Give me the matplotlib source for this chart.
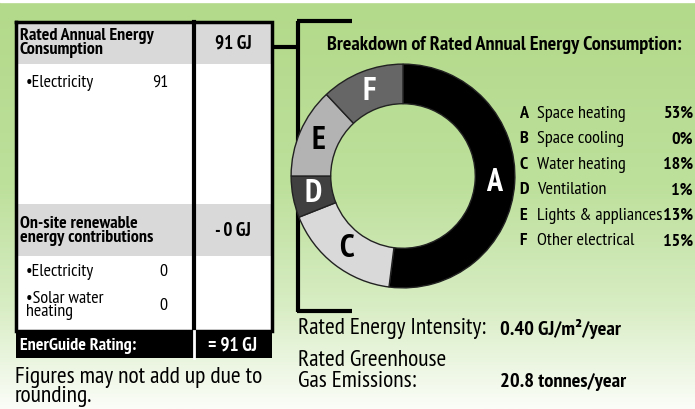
import numpy as np
import matplotlib
matplotlib.use("Agg")
import matplotlib.pyplot as plt
from matplotlib.colors import LinearSegmentedColormap
from matplotlib.patches import Rectangle

letters = ["A", "B", "C", "D", "E", "F"]
end_uses = ["Space heating", "Space cooling", "Water heating", "Ventilation",
            "Lights & appliances", "Other electrical"]
shares = [53, 0, 18, 1, 13, 15]            # % printed in the legend
ring_sizes = [52, 0, 17, 6, 13, 12]        # wedge sizes as drawn in the ring
ring_colors = ["#000000", "#ffffff", "#d9d9d9", "#404040", "#b3b3b3", "#666666"]
ring_text = ["white", "black", "black", "white", "black", "white"]

annual_gj = 91
supply_items = ["Electricity"]
supply_values = [91]
renewable_gj = 0
renewable_items = ["Electricity", "Solar water\nheating"]
renewable_values = [0, 0]
rating_gj = 91
intensity = "0.40"
ghg = "20.8"

FONT = ["PT Sans Narrow", "Liberation Sans", "DejaVu Sans"]
plt.rcParams["font.family"] = FONT

def pt(px):
    return px * 0.72

fig = plt.figure(figsize=(6.95, 4.10), dpi=100)
ax = fig.add_axes([0, 0, 1, 1])
ax.set_xlim(0, 695)
ax.set_ylim(410, 0)
ax.axis("off")

# background gradient (green -> white)
bg = LinearSegmentedColormap.from_list(
    "bg", [(0, "#b3d98a"), (0.45, "#bde09b"), (0.75, "#d8edc4"), (1.0, "#fbfdf8")])
grad = np.linspace(0, 1, 256).reshape(-1, 1)
ax.imshow(grad, cmap=bg, extent=[0, 695, 410, 3], aspect="auto", zorder=0)
ax.add_patch(Rectangle((0, 0), 695, 3, color="white", zorder=1))

# ---- table ----
L, R, D = 16, 272, 194
ax.add_patch(Rectangle((L, 23), R - L, 312, facecolor="white", edgecolor="none", zorder=1))
ax.add_patch(Rectangle((L, 23), R - L, 42, facecolor="#d9d9d9", edgecolor="none", zorder=2))
ax.add_patch(Rectangle((L, 205), R - L, 52, facecolor="#d9d9d9", edgecolor="none", zorder=2))
ax.add_patch(Rectangle((L, 332), R - L, 27, facecolor="black", edgecolor="none", zorder=2))
ax.plot([L, R, R, L, L], [23, 23, 332, 332, 23], color="black", lw=2.5, zorder=3,
        solid_joinstyle="miter")
ax.plot([D, D], [23, 332], color="black", lw=3, zorder=3)
ax.plot([D, D], [332, 359], color="white", lw=2, zorder=3)

hb = dict(fontsize=pt(18), fontweight="bold", va="center", zorder=4,
          linespacing=0.88)
ax.text(20, 43, "Rated Annual Energy\nConsumption", ha="left", **hb)
ax.text(233, 44, f"{annual_gj} GJ", ha="center", **dict(hb, fontsize=pt(19)))
ax.text(20, 231, "On-site renewable\nenergy contributions", ha="left", **hb)
ax.text(233, 231, f"- {renewable_gj} GJ", ha="center", **dict(hb, fontsize=pt(19)))
ax.text(20, 346, "EnerGuide Rating:", ha="left", color="white", **hb)
ax.text(233, 346, f"= {rating_gj} GJ", ha="center", color="white", **dict(hb, fontsize=pt(19)))

rb = dict(fontsize=pt(18), va="center", zorder=4, linespacing=0.75)
for i, (name, v) in enumerate(zip(supply_items, supply_values)):
    y = 83 + i * 25
    ax.text(26, y, "\u2022" + name, ha="left", **rb)
    ax.text(168, y, f"{v}", ha="right", **rb)
for i, (name, v) in enumerate(zip(renewable_items, renewable_values)):
    y = 272 + i * 34
    ax.text(26, y, "\u2022" + name, ha="left", **rb)
    ax.text(167, y, f"{v}", ha="right", **rb)

ax.text(15, 387, "Figures may not add up due to\nrounding.", ha="left", va="center",
        fontsize=pt(23.5), linespacing=0.92, zorder=4)

# ---- bracket ----
kb = dict(color="black", lw=3, zorder=3, solid_capstyle="butt")
ax.plot([R, 298], [48, 48], **kb)
ax.plot([298, 298], [22, 313], **kb)
ax.plot([297, 352], [22, 22], **kb)
ax.plot([297, 352], [312, 312], **kb)

ax.text(327, 45, "Breakdown of Rated Annual Energy Consumption:", ha="left", va="center",
        fontsize=pt(20.3), fontweight="bold", zorder=4)

# ---- legend ----
for i, (let, name, s) in enumerate(zip(letters, end_uses, shares)):
    y = 114 + i * 25.5
    ax.text(519, y, let, ha="left", va="center", fontsize=pt(18), fontweight="bold")
    ax.text(537, y, name, ha="left", va="center", fontsize=pt(18.3))
    ax.text(693, y, f"{s}%", ha="right", va="center", fontsize=pt(18), fontweight="bold")

# ---- bottom figures ----
ax.text(298, 329, "Rated Energy Intensity:", ha="left", va="center", fontsize=pt(23.4))
ax.text(500, 329, f"{intensity} GJ/m\u00b2/year", ha="left", va="center",
        fontsize=pt(20.5), fontweight="bold")
ax.text(298, 371, "Rated Greenhouse\nGas Emissions:", ha="left", va="center",
        fontsize=pt(23.4), linespacing=0.95)
ax.text(500, 382, f"{ghg} tonnes/year", ha="left", va="center",
        fontsize=pt(20.5), fontweight="bold")

# ---- ring ----
cx, cy, rad = 403, 177, 113
pax = fig.add_axes([(cx - rad) / 695, (410 - cy - rad) / 410, 2 * rad / 695, 2 * rad / 410])
wedges, texts = pax.pie(ring_sizes, colors=ring_colors, startangle=90, counterclock=False,
                        radius=1.0, labels=[l if s > 0 else "" for l, s in zip(letters, ring_sizes)],
                        labeldistance=0.82,
                        wedgeprops=dict(width=1 - 73 / 113, edgecolor="#222222", linewidth=1))
for t, c in zip(texts, ring_text):
    t.set_color(c)
    t.set_fontsize(pt(32))
    t.set_fontweight("bold")
    t.set_ha("center")
    t.set_va("center")
pax.set_xlim(-1.01, 1.01)
pax.set_ylim(-1.01, 1.01)
pax.set_aspect("equal")
pax.axis("off")

fig.savefig("out.png", dpi=100)
